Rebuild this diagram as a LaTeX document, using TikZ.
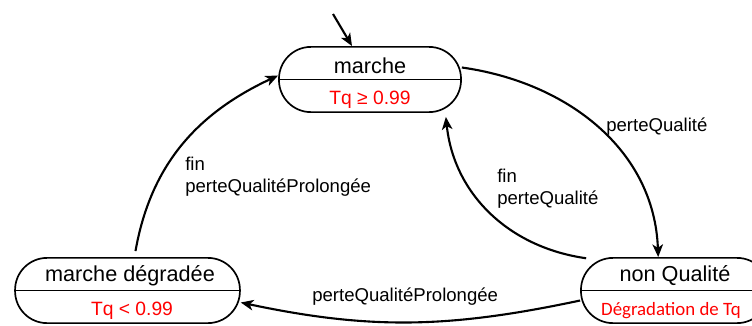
\documentclass[tikz,border=0pt]{standalone}
\usepackage{fontspec}
\setmainfont{Liberation Sans}
\newfontfamily\calibri{Carlito}
\usetikzlibrary{arrows.meta}

\begin{document}
\begin{tikzpicture}[
  x=0.025cm, y=-0.025cm,
  >={Stealth[length=9pt,width=7.5pt,inset=2.5pt]},
  etat/.style={draw, line width=1.2pt, rounded corners=0.8cm, minimum height=1.63cm, inner sep=0pt},
  nom/.style={font=\fontsize{15.4}{18}\selectfont, inner sep=0pt},
  garde/.style={text=red, font=\fontsize{13.7}{16}\selectfont, inner sep=0pt},
  lbl/.style={font=\fontsize{13.2}{15.4}\selectfont, align=left, anchor=west, inner sep=0pt},
  arr/.style={->, line width=1.5pt}
]
\clip (0,0) rectangle (752,325);

% etats
\node[etat, minimum width=4.55cm] (marche) at (370,79.5) {};
\node[etat, minimum width=5.62cm] (degr) at (127.5,290.5) {};
\node[etat, minimum width=4.7cm] (nonq) at (675,290.5) {};
\draw[line width=1.2pt] (marche.west) -- (marche.east);
\draw[line width=1.2pt] (degr.west) -- (degr.east);
\draw[line width=1.2pt] (nonq.west) -- (nonq.east);

\node[nom] (n1) at (370,66) {marche};
\node[garde] (g1) at (370,100) {Tq ≥ 0.99};
\node[nom] (n2) at (130,276) {marche dégradée};
\node[garde] (g2) at (132,311) {Tq < 0.99};
\node[nom] (n3) at (675,276) {non Qualité};
\node[garde, font=\calibri\fontsize{13.4}{16}\selectfont] (g3) at (671,311) {Dégradation de Tq};

% etiquettes
\node[lbl] (l1) at (185,177) {fin\\perteQualitéProlongée};
\node[lbl] (l2) at (497,189) {fin\\perteQualité};
\node[lbl] (l3) at (606,127) {perteQualité};
\node[lbl] (l4) at (312,297) {perteQualitéProlongée};

% transitions
\coordinate (init) at (333,14);
\draw[arr] (init) -- ([xshift=-0.45cm]marche.north);
\draw[arr] ([yshift=0.3cm]marche.east) to[out=-8, in=92] ([xshift=-0.42cm]nonq.north);
\draw[arr] ([xshift=0.15cm,yshift=-0.03cm]nonq.north west) to[out=172, in=-84] ([xshift=-0.4cm,yshift=-0.1cm]marche.south east);
\draw[arr] ([yshift=-0.25cm]nonq.west) to[out=192, in=-12] ([yshift=-0.3cm]degr.east);
\draw[arr] ([xshift=0.2cm,yshift=0.15cm]degr.north) to[out=80, in=205] ([yshift=0.1cm]marche.west);
\end{tikzpicture}
\end{document}
